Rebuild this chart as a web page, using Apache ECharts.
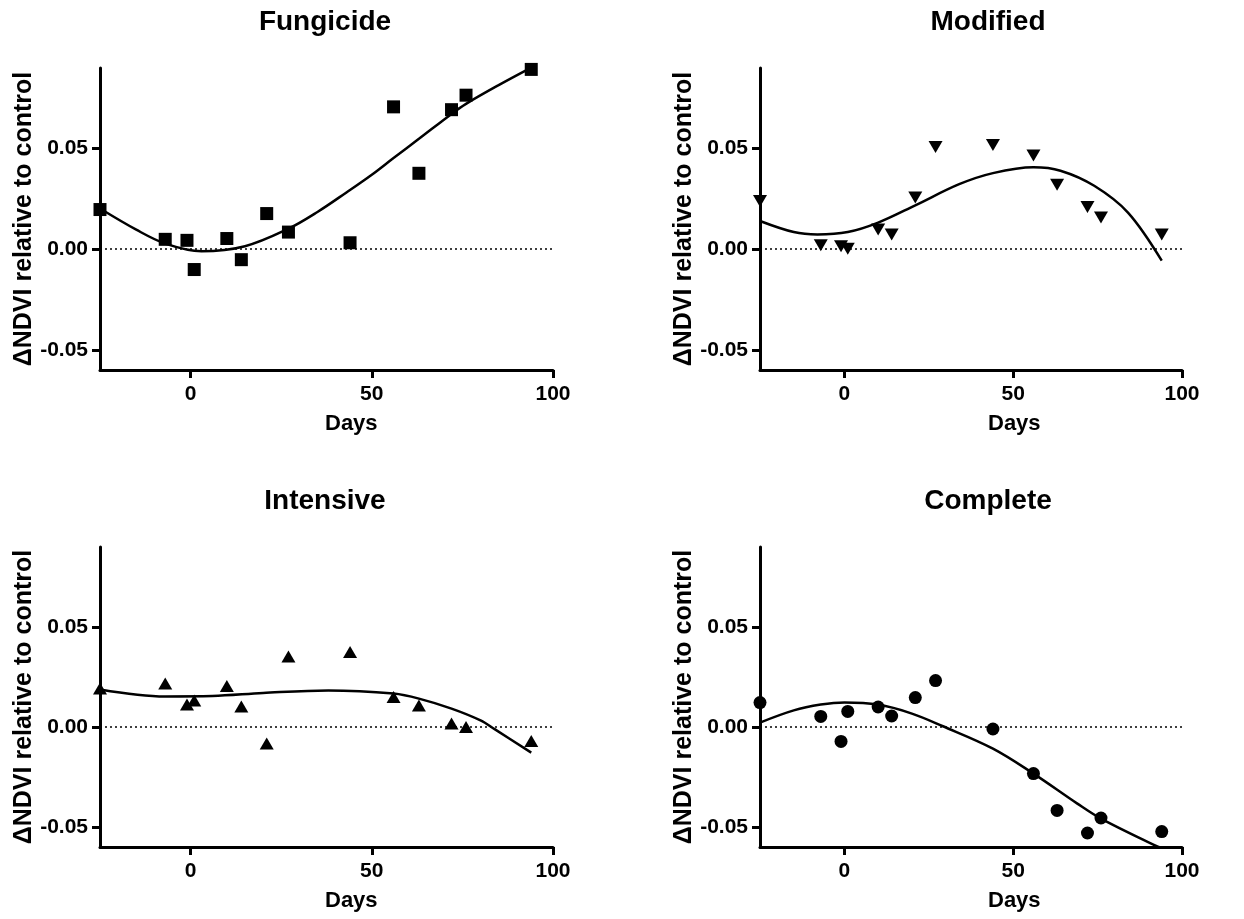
<!DOCTYPE html>
<html>
<head>
<meta charset="utf-8">
<script src="https://cdn.jsdelivr.net/npm/echarts@6/dist/echarts.min.js"></script>
<style>
  html, body { margin: 0; padding: 0; background: #fff; }
  #chart { width: 1244px; height: 919px; }
</style>
</head>
<body>
<div id="chart"></div>
<script>
// Sampling days (shared by all treatments)
const days = [-25, -7, -1, 1, 10, 14, 21, 27, 44, 56, 63, 72, 76, 94];

// ΔNDVI relative to control, per treatment
const fungicide = [0.0197, 0.0049, 0.0044, -0.0101, 0.0053, -0.0052, 0.0177, 0.0085, 0.0032, 0.0707, 0.0377, 0.0693, 0.0765, 0.0893];
const modified  = [0.0240, 0.0020, 0.0015, 0.0002, 0.0098, 0.0073, 0.0257, 0.0507, 0.0518, 0.0465, 0.0320, 0.0210, 0.0157, 0.0073];
const intensive = [0.0192, 0.0217, 0.0112, 0.0133, 0.0205, 0.0103, -0.0083, 0.0353, 0.0375, 0.0150, 0.0108, 0.0017, 0.0000, -0.0070];
const complete  = [0.0122, 0.0053, -0.0072, 0.0078, 0.0100, 0.0055, 0.0147, 0.0232, -0.0010, -0.0233, -0.0417, -0.0530, -0.0455, -0.0523];

// Fitted trend curves (day, value)
const fungicideFitDays = [-25, -15, -7, 3, 15, 27, 35, 43, 50, 56, 63, 72, 76, 85, 94];
const fungicideFit     = [0.0202, 0.0097, 0.0028, -0.0010, 0.0015, 0.0102, 0.0185, 0.0282, 0.0370, 0.0453, 0.0548, 0.0672, 0.0722, 0.0815, 0.0902];
const modifiedFitDays  = [-25, -15, -8, 1, 10, 21, 34, 44, 56, 64, 74, 84, 94];
const modifiedFit      = [0.0140, 0.0085, 0.0073, 0.0085, 0.0132, 0.0218, 0.0323, 0.0378, 0.0407, 0.0390, 0.0315, 0.0182, -0.0057];
const intensiveFitDays = [-25, -7, 6, 20, 38, 56, 63, 72, 80, 84, 94];
const intensiveFit     = [0.0188, 0.0153, 0.0155, 0.0170, 0.0183, 0.0167, 0.0142, 0.0092, 0.0033, -0.0012, -0.0128];
const completeFitDays  = [-25, -15, -7, 0, 10, 20, 29, 44, 56, 69, 76, 92, 94];
const completeFit      = [0.0022, 0.0083, 0.0112, 0.0123, 0.0112, 0.0067, 0.0005, -0.0108, -0.0233, -0.0383, -0.0458, -0.0592, -0.0605];

// Axis ticks
const xTicks = [0, 50, 100];
const yTicks = [-0.05, 0, 0.05];

const panelTitles = ['Fungicide', 'Modified', 'Intensive', 'Complete'];
const xAxisTitle = 'Days';
const yAxisTitle = 'ΔNDVI relative to control';

const FONT = '"Liberation Sans", Arial, Helvetica, sans-serif';

const panels = [
  { title: panelTitles[0], values: fungicide, fitX: fungicideFitDays, fitY: fungicideFit, symbol: 'rect', size: 13, rotate: 0 },
  { title: panelTitles[1], values: modified,  fitX: modifiedFitDays,  fitY: modifiedFit,  symbol: 'triangle', size: [14, 12], rotate: 180 },
  { title: panelTitles[2], values: intensive, fitX: intensiveFitDays, fitY: intensiveFit, symbol: 'triangle', size: [14, 12], rotate: 0 },
  { title: panelTitles[3], values: complete,  fitX: completeFitDays,  fitY: completeFit,  symbol: 'circle', size: 13, rotate: 0 }
];

// Panel layout: plot rectangles and text anchors
const layout = [
  { left: 100, top: 68,  width: 453, height: 302, titleX: 325, titleY: 8,   daysY: 413 },
  { left: 760, top: 68,  width: 422, height: 302, titleX: 988, titleY: 8,   daysY: 413 },
  { left: 100, top: 547, width: 453, height: 300, titleX: 325, titleY: 487, daysY: 890 },
  { left: 760, top: 547, width: 422, height: 300, titleX: 988, titleY: 487, daysY: 890 }
];

const grids = [], xAxes = [], yAxes = [], series = [], titles = [], graphics = [];

panels.forEach((p, i) => {
  const L = layout[i];
  grids.push({ left: L.left, top: L.top, width: L.width, height: L.height, containLabel: false });

  titles.push({
    text: p.title, left: L.titleX, top: L.titleY, textAlign: 'center', padding: 0,
    textStyle: { fontFamily: FONT, fontWeight: 'bold', fontSize: 28, color: '#000' }
  });

  xAxes.push({
    type: 'value', gridIndex: i, min: -25, max: 100,
    axisLine: { show: true, onZero: false, lineStyle: { color: '#000', width: 3 } },
    axisTick: { show: true, customValues: xTicks, length: 8, lineStyle: { color: '#000', width: 3 } },
    axisLabel: { customValues: xTicks, margin: 14, fontFamily: FONT, fontWeight: 'bold', fontSize: 21, color: '#000' },
    splitLine: { show: false }
  });

  yAxes.push({
    type: 'value', gridIndex: i, min: -0.06, max: 0.09,
    name: yAxisTitle, nameLocation: 'middle', nameRotate: 90, nameGap: 60,
    nameTextStyle: { fontFamily: FONT, fontWeight: 'bold', fontSize: 25, color: '#000' },
    axisLine: { show: true, onZero: false, lineStyle: { color: '#000', width: 3 } },
    axisTick: { show: true, customValues: yTicks, length: 8, lineStyle: { color: '#000', width: 3 } },
    axisLabel: {
      customValues: yTicks, margin: 12, fontFamily: FONT, fontWeight: 'bold', fontSize: 21, color: '#000',
      formatter: v => v.toFixed(2)
    },
    splitLine: { show: false }
  });

  graphics.push({
    type: 'text', left: L.titleX, top: L.daysY,
    style: { text: xAxisTitle, font: 'bold 22px ' + FONT, fill: '#000', textAlign: 'center' }
  });

  // fitted curve with dotted zero reference
  series.push({
    type: 'line', xAxisIndex: i, yAxisIndex: i,
    data: p.fitX.map((d, k) => [d, p.fitY[k]]),
    smooth: 0.35, showSymbol: false, symbol: 'none', clip: true,
    lineStyle: { color: '#000', width: 2.5 },
    z: 2, silent: true,
    markLine: {
      silent: true, symbol: 'none', label: { show: false },
      lineStyle: { color: '#000', width: 1.5, type: [2, 3] },
      data: [{ yAxis: 0 }]
    }
  });

  // observations
  series.push({
    type: 'scatter', xAxisIndex: i, yAxisIndex: i,
    data: days.map((d, k) => [d, p.values[k]]),
    symbol: p.symbol, symbolSize: p.size, symbolRotate: p.rotate,
    itemStyle: { color: '#000', opacity: 1 },
    z: 3, silent: true
  });
});

const chart = echarts.init(document.getElementById('chart'), null, { renderer: 'canvas' });
chart.setOption({
  backgroundColor: '#fff',
  animation: false,
  title: titles,
  grid: grids,
  xAxis: xAxes,
  yAxis: yAxes,
  series: series,
  graphic: graphics
});
</script>
</body>
</html>
